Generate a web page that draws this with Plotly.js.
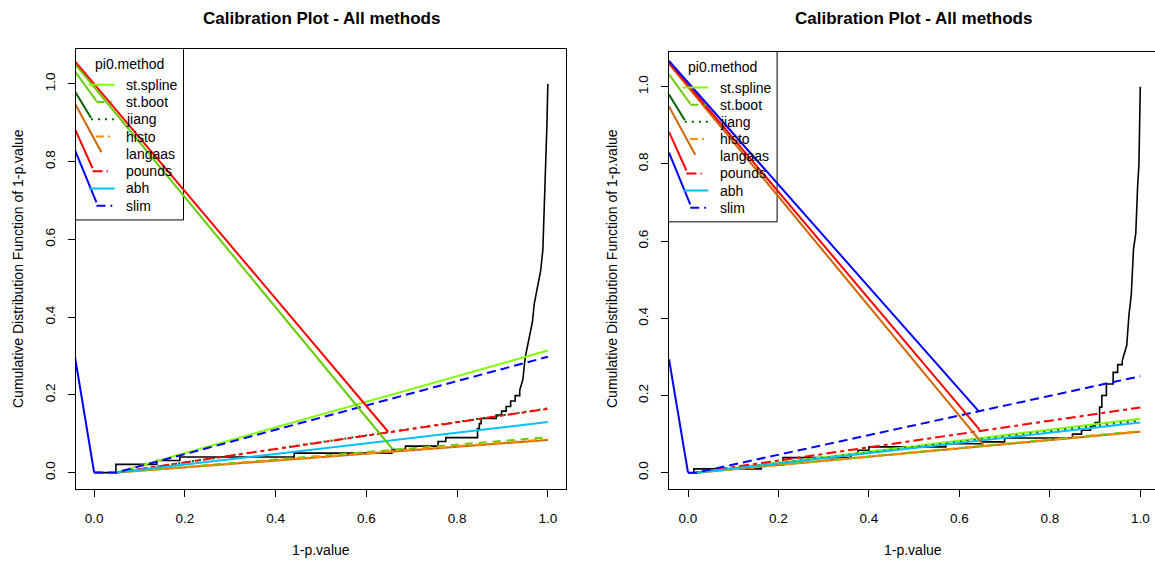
<!DOCTYPE html>
<html><head><meta charset="utf-8">
<script src="https://cdn.plot.ly/plotly-3.0.1.min.js"></script>
<style>html,body{margin:0;padding:0;background:#fff;} #chart{width:1155px;height:561px;}</style>
</head><body><div id="chart"></div>
<script>
// ---------- data ----------
const methods = ["st.spline","st.boot","jiang","histo","langaas","pounds","abh","slim"];
const drawOrder = ["langaas","st.spline","st.boot","jiang","histo","pounds","abh","slim"];
const tickValues = [0, 0.2, 0.4, 0.6, 0.8, 1.0];
const tickLabels = ["0.0","0.2","0.4","0.6","0.8","1.0"];
const mainTitle = "Calibration Plot - All methods";
const xTitle = "1-p.value";
const yTitle = "Cumulative Distribution Function of 1-p.value";
const legendTitle = "pi0.method";

// left panel
const p1FanStart = 0.048;
const p1EndY = [0.314, 0.091, 0.165, 0.086, 0.084, 0.164, 0.130, 0.298];
const p1SteepY = 0.296;
const p1StepX = [0, 0.048, 0.138, 0.189, 0.441, 0.656, 0.686, 0.758, 0.775, 0.845, 0.849, 0.853, 0.886, 0.898, 0.908, 0.918, 0.928, 0.938];
const p1StepY = [0, 0.021, 0.031, 0.040, 0.050, 0.059, 0.068, 0.080, 0.090, 0.113, 0.126, 0.139, 0.148, 0.158, 0.170, 0.184, 0.198, 0.212];
const p1CurveX = [0.938, 0.942, 0.945, 0.950, 0.958, 0.966, 0.970, 0.978, 0.984, 0.989, 0.992, 0.995, 0.998, 1.0];
const p1CurveY = [0.212, 0.225, 0.240, 0.296, 0.342, 0.388, 0.434, 0.480, 0.518, 0.573, 0.665, 0.758, 0.896, 1.0];
const p1DiagMethod = ["st.boot", "pounds"];
const p1DiagStartY = [1.051, 1.058];
const p1DiagEndX = [0.658, 0.648];
const p1DiagEndY = [0.060, 0.105];

// right panel
const p2FanStart = 0.017;
const p2EndY = [0.140, 0.108, 0.135, 0.107, 0.106, 0.169, 0.130, 0.250];
const p2SteepY = 0.294;
const p2StepX = [0, 0.013, 0.162, 0.21, 0.36, 0.376, 0.40, 0.57, 0.65, 0.70, 0.85, 0.87, 0.89, 0.90, 0.91, 0.915, 0.925, 0.94, 0.95, 0.96];
const p2StepY = [0, 0.010, 0.020, 0.039, 0.048, 0.058, 0.067, 0.075, 0.080, 0.090, 0.100, 0.110, 0.120, 0.130, 0.170, 0.200, 0.230, 0.260, 0.280, 0.290];
const p2CurveX = [0.96, 0.97, 0.975, 0.98, 0.985, 0.99, 0.994, 0.997, 1.0];
const p2CurveY = [0.29, 0.33, 0.41, 0.46, 0.58, 0.62, 0.74, 0.80, 1.0];
const p2DiagMethod = ["langaas", "pounds", "slim"];
const p2DiagStartY = [1.059, 1.063, 1.067];
const p2DiagEndX = [0.653, 0.645, 0.642];
const p2DiagEndY = [0.072, 0.111, 0.160];

// short diagonals running into the legend (same in both panels)
const legDiagMethod = ["st.boot", "jiang", "langaas", "pounds", "slim"];
const legDiagStartY = [1.032, 0.980, 0.949, 0.883, 0.829];
const legDiagEndX = [0.005, -0.007, 0.016, -0.0035, 0.005];
const legDiagEndY = [0.956, 0.913, 0.824, 0.783, 0.695];

// ---------- styles ----------
const FONT = "Liberation Sans, Arial, Helvetica, sans-serif";
const styles = {
  "st.spline": {color: "#7FFF00", dash: "solid"},
  "st.boot":   {color: "#66CD00", dash: "8px,6px"},
  "jiang":     {color: "#006400", dash: "2px,5px"},
  "histo":     {color: "#FF8C00", dash: "8px,4px,2px,4px"},
  "langaas":   {color: "#CD6600", dash: "solid"},
  "pounds":    {color: "#FF0000", dash: "10px,4px,4px,4px"},
  "abh":       {color: "#00BFFF", dash: "solid"},
  "slim":      {color: "#0000FF", dash: "9px,5px"}
};
const LW = 2;
const offLeft = -0.042;
// legend layout (axis units)
const legBox = {x0: -0.045, x1: 0.197, y0: 0.650, y1: 1.095};
const legTitlePos = {x: 0.077, y: 1.051};
const legTextX = 0.066;
const legRowTop = 0.998, legRowStep = 0.0445;
const legSampleX0 = {"st.spline": -0.012, "st.boot": 0.005, "jiang": -0.007, "histo": 0.004, "langaas": null, "pounds": -0.0035, "abh": -0.010, "slim": 0.005};
const legSampleX1 = {"st.spline": 0.045, "st.boot": 0.040, "jiang": 0.045, "histo": 0.035, "langaas": null, "pounds": 0.030, "abh": 0.045, "slim": 0.040};

function panelTraces(xa, ya, fanStart, endY, steepY, stepX, stepY, curveX, curveY, diagM, diagSY, diagEX, diagEY) {
  const t = [];
  t.push({x: stepX, y: stepY, xaxis: xa, yaxis: ya, mode: "lines", line: {color: "#000", width: 1.6, shape: "hv"}, hoverinfo: "skip"});
  t.push({x: curveX, y: curveY, xaxis: xa, yaxis: ya, mode: "lines", line: {color: "#000", width: 1.6}, hoverinfo: "skip"});
  drawOrder.forEach(m => {
    const i = methods.indexOf(m);
    const xs = m === "slim" ? [0, fanStart, 1] : [fanStart, 1];
    const ys = m === "slim" ? [0, 0, endY[i]] : [0, endY[i]];
    t.push({x: xs, y: ys, xaxis: xa, yaxis: ya, mode: "lines", line: {color: styles[m].color, width: LW, dash: styles[m].dash}, hoverinfo: "skip"});
  });
  diagM.forEach((m, i) => {
    t.push({x: [offLeft, diagEX[i]], y: [diagSY[i], diagEY[i]], xaxis: xa, yaxis: ya, mode: "lines", line: {color: styles[m].color, width: LW}, hoverinfo: "skip"});
  });
  legDiagMethod.forEach((m, i) => {
    t.push({x: [offLeft, legDiagEndX[i]], y: [legDiagStartY[i], legDiagEndY[i]], xaxis: xa, yaxis: ya, mode: "lines", line: {color: styles[m].color, width: LW}, hoverinfo: "skip"});
  });
  methods.forEach((m, i) => {
    if (legSampleX0[m] === null) return;
    const yy = legRowTop - i * legRowStep;
    t.push({x: [legSampleX0[m], legSampleX1[m]], y: [yy, yy], xaxis: xa, yaxis: ya, mode: "lines", line: {color: styles[m].color, width: LW, dash: styles[m].dash}, hoverinfo: "skip"});
  });
  t.push({x: [offLeft, 0], y: [steepY, 0], xaxis: xa, yaxis: ya, mode: "lines", line: {color: "#0000FF", width: LW}, hoverinfo: "skip"});
  return t;
}

const traces = [].concat(
  panelTraces("x", "y", p1FanStart, p1EndY, p1SteepY, p1StepX, p1StepY, p1CurveX, p1CurveY, p1DiagMethod, p1DiagStartY, p1DiagEndX, p1DiagEndY),
  panelTraces("x2", "y2", p2FanStart, p2EndY, p2SteepY, p2StepX, p2StepY, p2CurveX, p2CurveY, p2DiagMethod, p2DiagStartY, p2DiagEndX, p2DiagEndY)
);

function axisBase() {
  return {tickvals: tickValues, ticktext: tickLabels, ticks: "outside", ticklen: 7, tickwidth: 1, tickcolor: "#000",
    showline: true, linecolor: "#000", linewidth: 1, showgrid: false, zeroline: false,
    tickfont: {family: FONT, size: 13.5, color: "#000"}, fixedrange: true};
}
const W = 1155, H = 561;
const layout = {
  width: W, height: H, margin: {l: 0, r: 0, t: 0, b: 0},
  paper_bgcolor: "#fff", plot_bgcolor: "#fff", showlegend: false,
  font: {family: FONT, size: 14, color: "#000"},
  xaxis: Object.assign(axisBase(), {domain: [76 / W, 566 / W], range: [-0.04, 1.04], anchor: "y", mirror: true, ticklabelstandoff: 9}),
  yaxis: Object.assign(axisBase(), {domain: [1 - 489.3 / H, 1 - 49.3 / H], range: [-0.043, 1.089], anchor: "x", mirror: true, tickangle: -90, ticklabelstandoff: 8}),
  xaxis2: Object.assign(axisBase(), {domain: [669 / W, 1], range: [-0.042, 1.0325], anchor: "y2", mirror: true, ticklabelstandoff: 9}),
  yaxis2: Object.assign(axisBase(), {domain: [1 - 489.3 / H, 1 - 52 / H], range: [-0.043, 1.090], anchor: "x2", mirror: false, tickangle: -90, ticklabelstandoff: 8}),
  shapes: [],
  annotations: []
};

const panels = [{xa: "x", ya: "y", cx: 321, ylab: 18}, {xa: "x2", ya: "y2", cx: 913, ylab: 612}];
panels.forEach(p => {
  layout.annotations.push({text: mainTitle, xref: "paper", yref: "paper", x: p.cx / W, y: 1 - 18 / H, xanchor: "center", yanchor: "middle", showarrow: false, font: {family: FONT, size: 17, weight: "bold", color: "#000"}});
  layout.annotations.push({text: xTitle, xref: "paper", yref: "paper", x: p.cx / W, y: 1 - 550 / H, xanchor: "center", yanchor: "middle", showarrow: false, font: {family: FONT, size: 14, color: "#000"}});
  layout.annotations.push({text: yTitle, xref: "paper", yref: "paper", x: p.ylab / W, y: 1 - 269 / H, xanchor: "center", yanchor: "middle", textangle: -90, showarrow: false, font: {family: FONT, size: 14, color: "#000"}});
  layout.shapes.push({type: "rect", xref: p.xa, yref: p.ya, x0: legBox.x0, x1: legBox.x1, y0: legBox.y0, y1: legBox.y1, line: {color: "#000", width: 1}, fillcolor: "rgba(0,0,0,0)", layer: "below"});
  layout.annotations.push({text: legendTitle, xref: p.xa, yref: p.ya, x: legTitlePos.x, y: legTitlePos.y, xanchor: "center", yanchor: "middle", showarrow: false, font: {family: FONT, size: 14, color: "#000"}});
  methods.forEach((m, i) => {
    layout.annotations.push({text: m, xref: p.xa, yref: p.ya, x: legTextX, y: legRowTop - i * legRowStep, xanchor: "left", yanchor: "middle", showarrow: false, font: {family: FONT, size: 14, color: "#000"}});
  });
});

Plotly.newPlot("chart", traces, layout, {staticPlot: true, displayModeBar: false});
</script></body></html>
